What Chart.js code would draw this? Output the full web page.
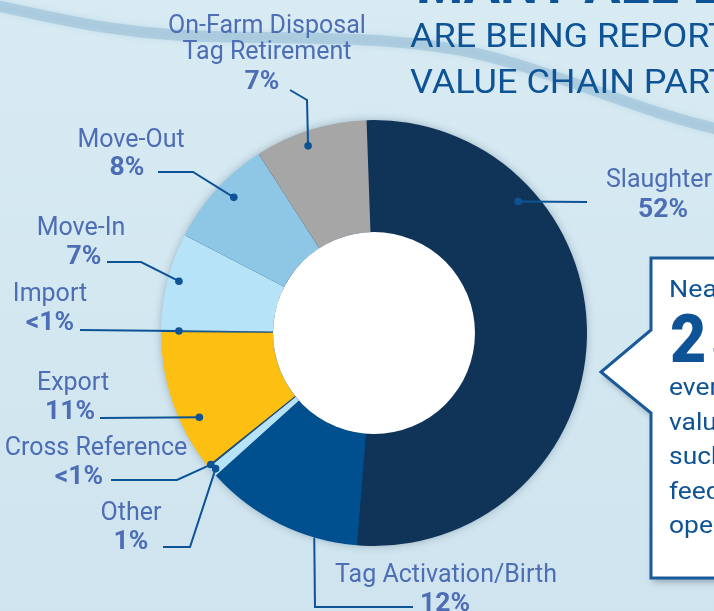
<!DOCTYPE html>
<html>
<head>
<meta charset="utf-8">
<script src="https://cdn.jsdelivr.net/npm/chart.js@4.4.1/dist/chart.umd.min.js"></script>
<style>
  html, body { margin: 0; padding: 0; background: #d4e8f1; }
  canvas { display: block; }
</style>
</head>
<body>
<canvas id="eventChart" width="714" height="611"></canvas>
<script>
// data (clockwise from the top)
const categories = ["Slaughter", "Tag Activation/Birth", "Other", "Cross Reference", "Export", "Import", "Move-In", "Move-Out", "On-Farm Disposal Tag Retirement"];
const shares = [51.8, 12.05, 0.8, 0.15, 10.8, 0.15, 7.35, 8.3, 8.55];
const shareLabels = ["52%", "12%", "1%", "<1%", "11%", "<1%", "7%", "8%", "7%"];
const sliceColors = ["#103458", "#00508f", "#b6e3f8", "#1b4e82", "#fcbf12", "#1a5a96", "#b6e3f8", "#8ec6e6", "#a6a6a6"];

const labelColor = "#4d6db5";
const lineColor = "#0d5396";

// label layout: name lines, name baselines, percent position, where the dot sits in the slice, line bends
const labelLayout = [
  { lines: ["Slaughter"], x: 659, ys: [187], pctX: 663, pctY: 217, t: 0.266, r: 0.84, path: [[587, 202]] },
  { lines: ["Tag Activation/Birth"], x: 446, ys: [582], pctX: 445, pctY: 611, t: 0.27, r: 1.0, path: [[315, 607], [413, 607]], noDot: true },
  { lines: ["Other"], x: 131, ys: [520], pctX: 131, pctY: 549, t: 0.5, r: 0.96, path: [[190, 547], [163, 547]] },
  { lines: ["Cross Reference"], x: 96, ys: [455], pctX: 79, pctY: 484, t: 0.5, r: 0.97, path: [[177, 480], [111, 480]] },
  { lines: ["Export"], x: 73, ys: [390], pctX: 70, pctY: 419, t: 0.33, r: 0.83, path: [[100, 418]] },
  { lines: ["Import"], x: 50, ys: [301], pctX: 50, pctY: 330, t: 0.5, r: 0.84, path: [[80, 330]] },
  { lines: ["Move-In"], x: 81, ys: [235], pctX: 84, pctY: 264, t: 0.53, r: 0.9, path: [[141, 262], [107, 262]] },
  { lines: ["Move-Out"], x: 131, ys: [147], pctX: 127, pctY: 175, t: 0.56, r: 0.84, path: [[193, 172], [158, 172]] },
  { lines: ["On-Farm Disposal", "Tag Retirement"], x: 267, ys: [33, 59], pctX: 262, pctY: 89, t: 0.435, r: 0.87, path: [[307, 100], [290, 90]] }
];

const calloutLines = ["every", "value", "such", "feedl", "oper"];

function drawText(ctx, txt, x, y, font, color, align, sx, spacing) {
  ctx.save();
  ctx.font = font;
  ctx.fillStyle = color;
  ctx.textAlign = align;
  ctx.textBaseline = "alphabetic";
  if (spacing) ctx.letterSpacing = spacing;
  ctx.translate(x, y);
  ctx.scale(sx || 1, 1);
  ctx.fillText(txt, 0, 0);
  ctx.restore();
}

const backdrop = {
  id: "backdrop",
  beforeDraw(chart) {
    const ctx = chart.ctx;
    const w = chart.width, h = chart.height;
    ctx.save();
    const g = ctx.createLinearGradient(0, 0, 0, h);
    g.addColorStop(0, "#d8ebf3");
    g.addColorStop(1, "#cfe4ee");
    ctx.fillStyle = g;
    ctx.fillRect(0, 0, w, h);

    // soft wave across the top
    ctx.strokeStyle = "rgba(150, 188, 214, 0.55)";
    ctx.lineWidth = 11;
    ctx.lineCap = "round";
    ctx.shadowColor = "rgba(150, 188, 214, 0.6)";
    ctx.shadowBlur = 6;
    ctx.beginPath();
    ctx.moveTo(-10, 4);
    ctx.bezierCurveTo(70, 22, 130, 36, 230, 37);
    ctx.bezierCurveTo(330, 38, 400, 38, 470, 52);
    ctx.bezierCurveTo(560, 72, 630, 110, 730, 132);
    ctx.stroke();
    ctx.restore();

    // heading, cut by the edges
    drawText(ctx, "MANY ALL EVENTS", 416, 3, "bold 60px Roboto", "#0d5396", "left", 0.9);
    drawText(ctx, "ARE BEING REPORTED", 410, 47, "34px Roboto", "#0d5396", "left", 1.06);
    drawText(ctx, "VALUE CHAIN PARTNERS", 410, 93, "34px Roboto", "#0d5396", "left", 1.06);

    // callout box on the right
    ctx.save();
    ctx.beginPath();
    ctx.moveTo(651, 258);
    ctx.lineTo(720, 258);
    ctx.lineTo(720, 578);
    ctx.lineTo(651, 578);
    ctx.lineTo(651, 413);
    ctx.lineTo(601, 372);
    ctx.lineTo(651, 330);
    ctx.closePath();
    ctx.shadowColor = "rgba(30, 50, 70, 0.35)";
    ctx.shadowBlur = 6;
    ctx.shadowOffsetX = 2;
    ctx.shadowOffsetY = 4;
    ctx.fillStyle = "#ffffff";
    ctx.fill();
    ctx.shadowColor = "transparent";
    ctx.lineWidth = 3;
    ctx.strokeStyle = "#1b5a99";
    ctx.lineJoin = "miter";
    ctx.stroke();
    ctx.restore();

    drawText(ctx, "Nearly", 669, 297, "24px Roboto", "#0d5396", "left", 1.12);
    drawText(ctx, "25%", 670, 362, "900 66px Roboto", "#0d5396", "left", 0.95, "5px");
    calloutLines.forEach((s, i) => {
      drawText(ctx, s, 669, 395 + i * 34.5, "24px Roboto", "#0d5396", "left", 1.1);
    });
  },
  beforeDatasetsDraw(chart) {
    const arc = chart.getDatasetMeta(0).data[0];
    const ctx = chart.ctx;
    ctx.save();
    ctx.beginPath();
    ctx.arc(arc.x, arc.y, arc.outerRadius - 1, 0, Math.PI * 2);
    ctx.shadowColor = "rgba(40, 70, 100, 0.4)";
    ctx.shadowBlur = 10;
    ctx.fillStyle = "#103458";
    ctx.fill();
    ctx.restore();
  },
  afterDatasetsDraw(chart) {
    const meta = chart.getDatasetMeta(0);
    const ctx = chart.ctx;
    const first = meta.data[0];

    // white hole
    ctx.save();
    ctx.beginPath();
    ctx.arc(first.x, first.y, first.innerRadius, 0, Math.PI * 2);
    ctx.fillStyle = "#ffffff";
    ctx.fill();
    ctx.restore();

    labelLayout.forEach((lab, i) => {
      const a = meta.data[i];
      const ang = a.startAngle + (a.endAngle - a.startAngle) * lab.t;
      const rad = a.innerRadius + (a.outerRadius - a.innerRadius) * lab.r;
      const px = a.x + Math.cos(ang) * rad;
      const py = a.y + Math.sin(ang) * rad;

      ctx.save();
      ctx.strokeStyle = lineColor;
      ctx.lineWidth = 2;
      ctx.beginPath();
      ctx.moveTo(px, py);
      lab.path.forEach(p => ctx.lineTo(p[0], p[1]));
      ctx.stroke();
      if (!lab.noDot) {
        ctx.fillStyle = lineColor;
        ctx.beginPath();
        ctx.arc(px, py, 3.8, 0, Math.PI * 2);
        ctx.fill();
      }
      ctx.restore();

      lab.lines.forEach((s, k) => {
        drawText(ctx, s, lab.x, lab.ys[k], "25px Roboto", labelColor, "center", 1.0);
      });
      drawText(ctx, shareLabels[i], lab.pctX, lab.pctY, "bold 26px Roboto", labelColor, "center", 1.02);
    });
  }
};

const ctx = document.getElementById("eventChart").getContext("2d");
const eventChart = new Chart(ctx, {
  type: "doughnut",
  data: {
    labels: categories,
    datasets: [
      {
        data: shares,
        backgroundColor: sliceColors,
        borderWidth: 0,
        hoverOffset: 0,
      },
    ],
  },
  options: {
    responsive: false,
    animation: false,
    events: [],
    rotation: -2,
    cutout: "47.4%",
    layout: {
      padding: { left: 161, right: 127, top: 120, bottom: 65 },
    },
    plugins: {
      legend: { display: false },
      tooltip: { enabled: false },
    },
  },
  plugins: [backdrop],
});
</script>
</body>
</html>
